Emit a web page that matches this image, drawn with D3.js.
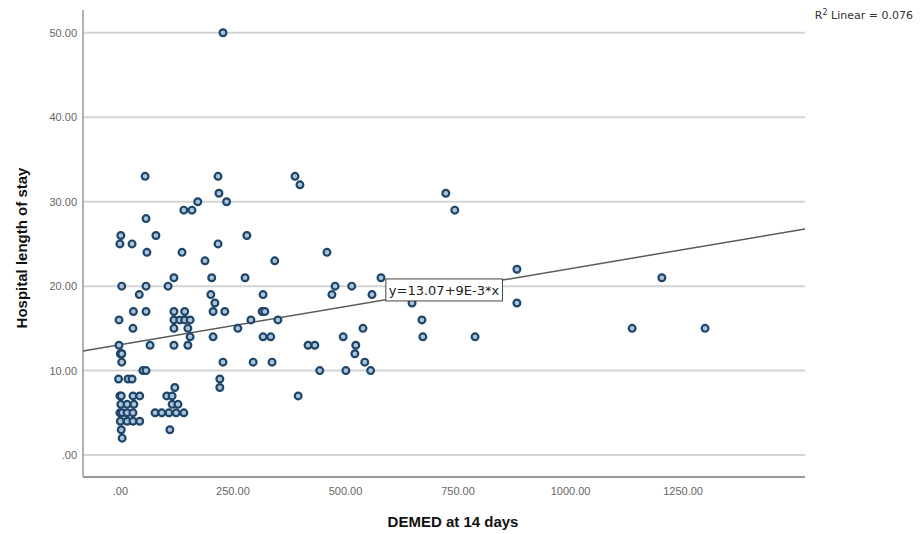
<!DOCTYPE html>
<html>
<head>
<meta charset="utf-8">
<script src="https://cdn.jsdelivr.net/npm/d3@7"></script>
<style>
  body { margin: 0; background: #fff; }
  svg { display: block; }
  .tick text { font-family: "Liberation Sans", Arial, sans-serif; font-size: 11px; fill: #666; }
  .axis-title { font-family: "Liberation Sans", Arial, sans-serif; font-size: 15px; font-weight: bold; fill: #111; }
</style>
</head>
<body>
<svg id="chart"></svg>
<script>
// DEMED at 14 days (x) vs hospital length of stay (y)
const demed = [
  2, 0, 4, -2, -2, 1, 4, 4, 4, -3, 0, 3, 2, 0, 5, 1, 3, 5,
  27, 30, 58, 29, 43, 58, 60, 56, 58, 80, 67, 51, 58, 18, 27,
  29, 44, 16, 31, 16, 29, 16, 29, 44,
  122, 104, 116, 116, 129, 78, 93, 109, 125, 142, 111,
  120, 144, 120, 133, 144, 156, 120, 151, 156, 151, 120, 107, 120, 138, 142, 160, 173,
  218, 220, 237, 218, 189, 204, 202, 211, 207, 233, 207, 229, 222, 222, 229,
  282, 278, 262, 291, 318, 316, 322, 318, 335, 296, 338, 344, 351,
  389, 400, 396, 460, 478, 471, 515, 560, 580, 418, 433, 444, 496, 524, 522, 502, 540, 544, 557,
  649, 671, 673, 724, 744, 789, 882, 882, 1138, 1204, 1300
];
const stay = [
  26, 25, 20, 16, 13, 12, 12, 11, 12, 9, 7, 7, 6, 5, 5, 4, 3, 2,
  25, 17, 17, 15, 19, 20, 24, 33, 28, 26, 13, 10, 10, 9, 9,
  7, 7, 6, 6, 5, 5, 4, 4, 4,
  8, 7, 7, 6, 6, 5, 5, 5, 5, 5, 3,
  17, 17, 16, 16, 16, 16, 15, 15, 14, 13, 13, 20, 21, 24, 29, 29, 30,
  33, 31, 30, 25, 23, 21, 19, 18, 17, 17, 14, 11, 9, 8, 50,
  26, 21, 15, 16, 19, 17, 17, 14, 14, 11, 11, 23, 16,
  33, 32, 7, 24, 20, 19, 20, 19, 21, 13, 13, 10, 14, 13, 12, 10, 15, 11, 10,
  18, 16, 14, 31, 29, 14, 22, 18, 15, 21, 15
];

const xTicks = [0, 250, 500, 750, 1000, 1250];
const yTicks = [0, 10, 20, 30, 40, 50];

// linear fit shown on the chart
const intercept = 13.07;
const slope = 0.009;
const fitLabel = "y=13.07+9E-3*x";
const r2Label = "0.076";

function draw() {
  const margin = { top: 10, right: 115, bottom: 57, left: 83 };
  const width = 920 - margin.left - margin.right;
  const height = 534 - margin.top - margin.bottom;

  const x = d3.scaleLinear().domain([-82, 1522]).range([0, width]);
  const y = d3.scaleLinear().domain([-2.6, 52.7]).range([height, 0]);
  const fmt = v => (v === 0 ? ".00" : v.toFixed(2));

  const svg = d3
    .select("#chart")
    .attr("width", width + margin.left + margin.right)
    .attr("height", height + margin.top + margin.bottom);

  const chart = svg
    .append("g")
    .attr("transform", `translate(${margin.left}, ${margin.top})`);

  // horizontal grid
  chart
    .selectAll(".grid")
    .data(yTicks)
    .enter()
    .append("line")
    .attr("class", "grid")
    .attr("x1", 0)
    .attr("x2", width)
    .attr("y1", d => y(d))
    .attr("y2", d => y(d))
    .attr("stroke", "#d4d4d4")
    .attr("stroke-width", 2);

  // axis frame
  chart.append("line")
    .attr("x1", 0).attr("x2", 0).attr("y1", 0).attr("y2", height)
    .attr("stroke", "#9a9a9a").attr("stroke-width", 1.5);
  chart.append("line")
    .attr("x1", 0).attr("x2", width).attr("y1", height).attr("y2", height)
    .attr("stroke", "#9a9a9a").attr("stroke-width", 2);

  const yAxis = d3.axisLeft(y).tickValues(yTicks).tickFormat(fmt).tickSize(0).tickPadding(6);
  chart.append("g").call(yAxis).call(g => g.select(".domain").remove());

  const xAxis = d3.axisBottom(x).tickValues(xTicks).tickFormat(fmt).tickSize(0).tickPadding(10);
  chart
    .append("g")
    .attr("transform", `translate(0, ${height})`)
    .call(xAxis)
    .call(g => g.select(".domain").remove());

  // fit line
  const [x0, x1] = x.domain();
  chart
    .append("line")
    .attr("x1", x(x0))
    .attr("y1", y(intercept + slope * x0))
    .attr("x2", x(x1))
    .attr("y2", y(intercept + slope * x1))
    .attr("stroke", "#5a5a5a")
    .attr("stroke-width", 1.5);

  // points
  chart
    .selectAll(".dot")
    .data(demed.map((d, i) => ({ x: d, y: stay[i] })))
    .enter()
    .append("circle")
    .attr("class", "dot")
    .attr("cx", d => x(d.x))
    .attr("cy", d => y(d.y))
    .attr("r", 3.4)
    .attr("fill", "#a9c4da")
    .attr("stroke", "#1f4568")
    .attr("stroke-width", 2.2);

  // equation label at the middle of the fit line
  const xm = (x0 + x1) / 2;
  const lbl = chart.append("g")
    .attr("transform", `translate(${x(xm)}, ${y(intercept + slope * xm)})`);
  const box = lbl.append("rect").attr("fill", "#fff").attr("stroke", "#444").attr("stroke-width", 1);
  const t = lbl.append("text")
    .attr("text-anchor", "middle")
    .attr("dy", "0.35em")
    .style("font-family", "DejaVu Sans, sans-serif")
    .style("font-size", "13px")
    .style("fill", "#222")
    .text(fitLabel);
  const bb = t.node().getBBox();
  box.attr("x", bb.x - 3).attr("y", -11).attr("width", bb.width + 6).attr("height", 22);

  // R² legend
  const r2 = svg.append("text")
    .attr("x", 913)
    .attr("y", 19)
    .attr("text-anchor", "end")
    .style("font-family", "DejaVu Sans, sans-serif")
    .style("font-size", "11px")
    .style("fill", "#333");
  r2.append("tspan").text("R");
  r2.append("tspan").attr("dy", -4).style("font-size", "8px").text("2");
  r2.append("tspan").attr("dy", 4).text(" Linear = " + r2Label);

  // axis titles
  svg.append("text")
    .attr("class", "axis-title")
    .attr("x", 453)
    .attr("y", 527)
    .style("text-anchor", "middle")
    .text("DEMED at 14 days");

  svg.append("text")
    .attr("class", "axis-title")
    .attr("transform", "rotate(-90)")
    .attr("x", -248)
    .attr("y", 27)
    .style("text-anchor", "middle")
    .text("Hospital length of stay");
}

draw();
</script>
</body>
</html>
